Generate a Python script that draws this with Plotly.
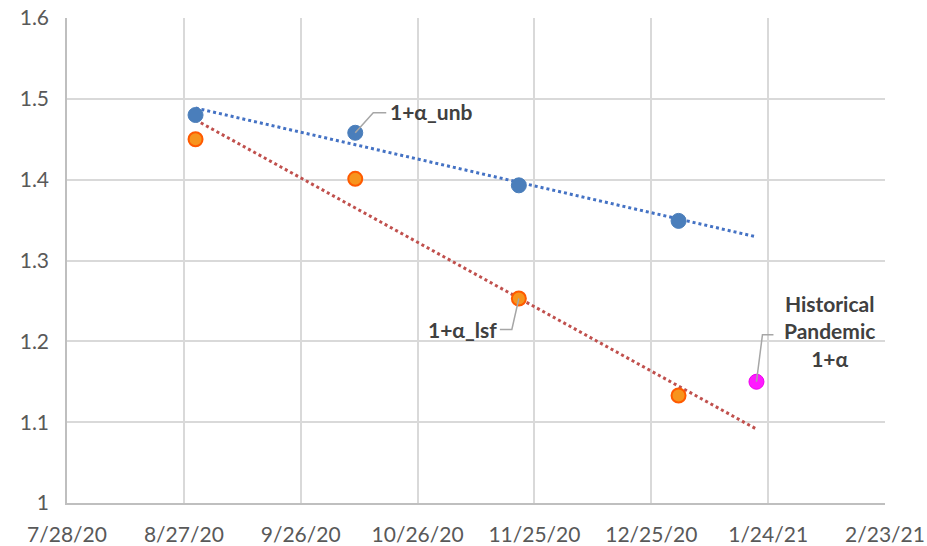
import numpy as np
import pandas as pd
import plotly.graph_objects as go

# Estimate dates and values
dates = ["2020-08-30", "2020-10-10", "2020-11-21", "2021-01-01"]
alpha_unb = [1.480, 1.458, 1.393, 1.349]
alpha_lsf = [1.450, 1.401, 1.253, 1.133]
hist_date = ["2021-01-21"]
hist_alpha = [1.150]

x_ticks_start = "2020-07-28"
x_range = ["2020-07-28", "2021-02-23"]
y_range = [1.0, 1.6]

d = pd.to_datetime(dates)
t0 = d[0]
days = np.array([(v - t0).days for v in d], dtype=float)
end_day = float((pd.to_datetime(hist_date[0]) - t0).days)


def trend(values):
    slope, icept = np.polyfit(days, np.array(values), 1)
    xs = np.array([0.0, end_day])
    return [t0 + pd.Timedelta(days=v) for v in xs], icept + slope * xs


fig = go.Figure()

tx, ty = trend(alpha_unb)
fig.add_trace(go.Scatter(x=tx, y=ty, mode="lines",
                         line=dict(color="#4472c4", width=3, dash="dot"),
                         hoverinfo="skip"))
tx, ty = trend(alpha_lsf)
fig.add_trace(go.Scatter(x=tx, y=ty, mode="lines",
                         line=dict(color="#c0504d", width=3, dash="dot"),
                         hoverinfo="skip"))

fig.add_trace(go.Scatter(x=d, y=alpha_unb, mode="markers",
                         marker=dict(size=15, color="#4a7ebb",
                                     line=dict(width=1, color="#4a7ebb"))))
fig.add_trace(go.Scatter(x=d, y=alpha_lsf, mode="markers",
                         marker=dict(size=14, color="#f7941d",
                                     line=dict(width=2, color="#ff5a00"))))
fig.add_trace(go.Scatter(x=pd.to_datetime(hist_date), y=hist_alpha, mode="markers",
                         marker=dict(size=15, color="#ff19ff",
                                     line=dict(width=1, color="#ee00ee"))))

label_font = dict(family="Lato, 'Open Sans', sans-serif", size=21,
                  color="#404040")


def leader(xv, yv, path):
    fig.add_shape(type="path", xref="x", yref="y", xsizemode="pixel",
                  ysizemode="pixel", xanchor=xv, yanchor=yv, path=path,
                  line=dict(color="#a6a6a6", width=1.5), layer="above")


# 1+α_unb label
leader(d[1], alpha_unb[1], "M0,0 L18,20 L31,20")
fig.add_annotation(x=d[1], y=alpha_unb[1], xref="x", yref="y",
                   text="<b>1+α_unb</b>", showarrow=False, xanchor="left",
                   yanchor="middle", xshift=33, yshift=21, font=label_font)

# 1+α_lsf label
leader(d[2], alpha_lsf[2], "M0,0 L-7,-31 L-19,-31")
fig.add_annotation(x=d[2], y=alpha_lsf[2], xref="x", yref="y",
                   text="<b>1+α_lsf</b>", showarrow=False, xanchor="right",
                   yanchor="middle", xshift=-20, yshift=-31, font=label_font)

# historical pandemic label
hd = pd.to_datetime(hist_date[0])
leader(hd, hist_alpha[0], "M0,0 L6,47 L17,47")
fig.add_annotation(x=hd, y=hist_alpha[0], xref="x", yref="y",
                   text="<b>Historical<br>Pandemic<br>1+α</b>", showarrow=False,
                   xanchor="center", yanchor="middle", xshift=73, yshift=51,
                   align="center", font=label_font)

tick_font = dict(family="Lato, 'Open Sans', sans-serif", size=21, color="#595959")

fig.update_xaxes(type="date", range=x_range, tick0=x_ticks_start,
                 dtick=30 * 86400000, tickformat="%-m/%-d/%y",
                 showgrid=True, gridcolor="#d9d9d9", gridwidth=1.5,
                 showline=True, linecolor="#bfbfbf", linewidth=1.5,
                 ticks="", tickfont=tick_font, zeroline=False,
                 automargin=False, ticklabelstandoff=12)
fig.update_yaxes(range=y_range, dtick=0.1, tickformat="~g",
                 showgrid=True, gridcolor="#d9d9d9", gridwidth=1.5,
                 showline=True, linecolor="#bfbfbf", linewidth=1.5,
                 ticks="", tickfont=tick_font, zeroline=False,
                 automargin=False, ticklabelstandoff=12)

fig.update_layout(width=927, height=546, showlegend=False,
                  paper_bgcolor="white", plot_bgcolor="white",
                  margin=dict(l=67, r=42, t=18, b=43))

fig.write_html("out.html")
